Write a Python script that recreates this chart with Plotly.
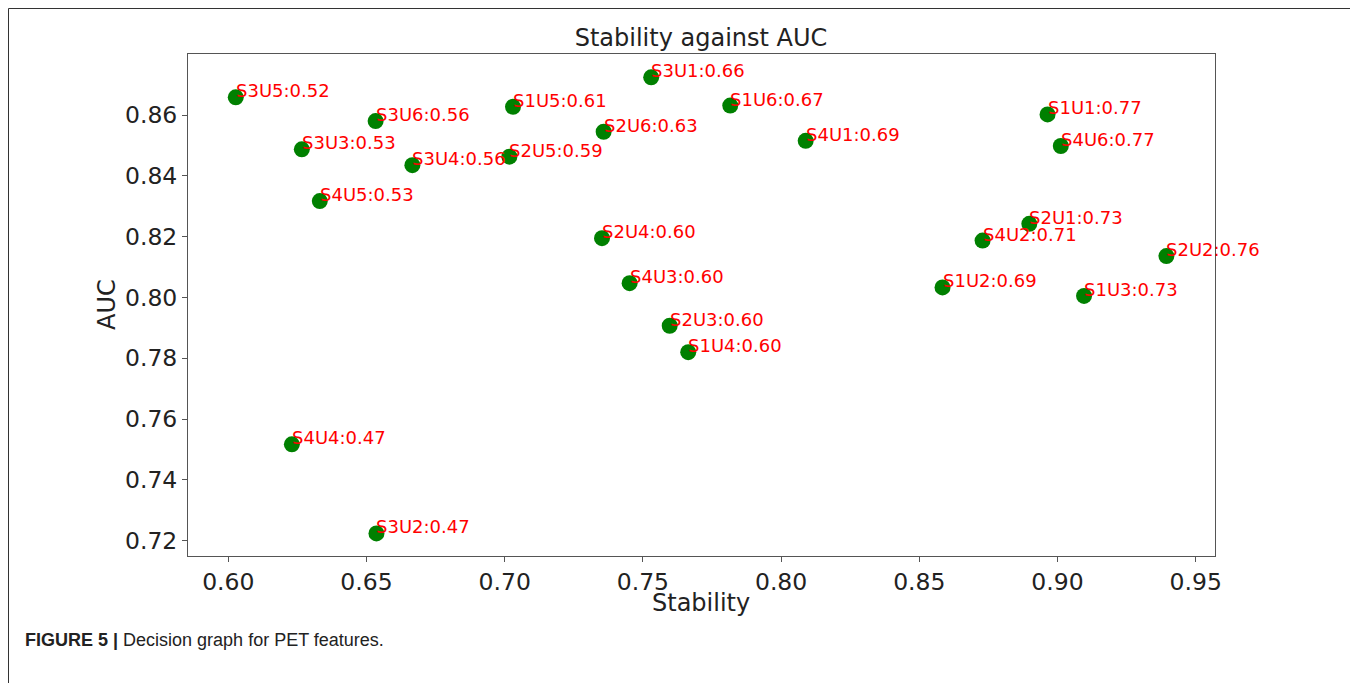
import plotly.graph_objects as go

labels = ["S3U5:0.52", "S3U6:0.56", "S3U3:0.53", "S3U4:0.56", "S4U5:0.53",
          "S1U5:0.61", "S2U5:0.59", "S3U1:0.66", "S2U6:0.63", "S1U6:0.67",
          "S4U1:0.69", "S1U1:0.77", "S4U6:0.77", "S2U1:0.73", "S4U2:0.71",
          "S2U2:0.76", "S1U2:0.69", "S1U3:0.73", "S2U4:0.60", "S4U3:0.60",
          "S2U3:0.60", "S1U4:0.60", "S4U4:0.47", "S3U2:0.47"]
stability = [0.6027, 0.6533, 0.6266, 0.6666, 0.6331,
             0.7030, 0.7017, 0.7530, 0.7358, 0.7816,
             0.8089, 0.8964, 0.9012, 0.8898, 0.8729,
             0.9394, 0.8584, 0.9096, 0.7352, 0.7452,
             0.7597, 0.7664, 0.6230, 0.6536]
auc = [0.8658, 0.8580, 0.8487, 0.8435, 0.8317,
       0.8627, 0.8463, 0.8724, 0.8545, 0.8631,
       0.8515, 0.8602, 0.8498, 0.8242, 0.8187,
       0.8136, 0.8033, 0.8005, 0.8195, 0.8047,
       0.7907, 0.7820, 0.7517, 0.7224]

x_ticks = [0.60, 0.65, 0.70, 0.75, 0.80, 0.85, 0.90, 0.95]
y_ticks = [0.72, 0.74, 0.76, 0.78, 0.80, 0.82, 0.84, 0.86]

# page body has an 8px offset; the figure is laid out in page coordinates minus 8
OFF = 8
W, H = 1358 - OFF, 683 - OFF
L, T = 188 - OFF, 54 - OFF
pw, ph = 1027, 502
R, B = W - L - pw, H - T - ph


def px_x(p):
    return (p - OFF - L) / pw


def px_y(p):
    return 1 - (p - OFF - T) / ph


fig = go.Figure()
fig.add_trace(go.Scatter(
    x=stability, y=auc, mode="markers",
    marker=dict(color="#008000", size=16, line=dict(width=0)),
    hoverinfo="text", text=labels, showlegend=False,
))

annotations = []
for lab, xv, yv in zip(labels, stability, auc):
    annotations.append(dict(
        x=xv, y=yv, xref="x", yref="y", text=lab, showarrow=False,
        xanchor="left", yanchor="bottom", xshift=-2, yshift=-6,
        font=dict(family="DejaVu Sans", size=18, color="#ff0000"),
    ))

title_font = dict(family="DejaVu Sans", size=24, color="#222222")

# axis titles
annotations.append(dict(
    x=px_x(701), y=px_y(603), xref="paper", yref="paper", text="Stability",
    showarrow=False, xanchor="center", yanchor="middle", font=title_font,
))
annotations.append(dict(
    x=px_x(107), y=px_y(305), xref="paper", yref="paper", text="AUC",
    showarrow=False, xanchor="center", yanchor="middle", textangle=-90,
    font=title_font,
))

# caption
annotations.append(dict(
    x=px_x(23), y=px_y(640), xref="paper", yref="paper",
    text="<b>FIGURE 5 |</b> Decision graph for PET features.",
    showarrow=False, xanchor="left", yanchor="middle",
    font=dict(family="Liberation Sans", size=18, color="#222222"),
))

shapes = [dict(
    type="rect", xref="paper", yref="paper",
    x0=px_x(8.5), x1=px_x(1355.5),
    y0=px_y(700), y1=px_y(8.5),
    line=dict(color="#333333", width=1), fillcolor="rgba(0,0,0,0)",
    layer="below",
)]

axis_common = dict(
    showline=True, linecolor="#555555", linewidth=1, mirror=True,
    ticks="outside", ticklen=5, tickcolor="#555555", tickwidth=1,
    showgrid=False, zeroline=False,
    tickfont=dict(family="DejaVu Sans", size=23.5, color="#222222"),
)

fig.update_layout(
    width=W, height=H,
    margin=dict(l=L, r=R, t=T, b=B, autoexpand=False),
    paper_bgcolor="white", plot_bgcolor="white",
    title=dict(text="Stability against AUC", x=(701 - OFF) / W, xanchor="center",
               y=1 - (38 - OFF) / H, yanchor="middle", font=title_font),
    xaxis=dict(range=[0.58542, 0.95698], tickvals=x_ticks,
               ticktext=[f"{v:.2f}" for v in x_ticks], **axis_common),
    yaxis=dict(range=[0.71497, 0.88006], tickvals=y_ticks,
               ticktext=[f"{v:.2f}" for v in y_ticks], **axis_common),
    annotations=annotations, shapes=shapes,
)

fig.write_html("out.html")
